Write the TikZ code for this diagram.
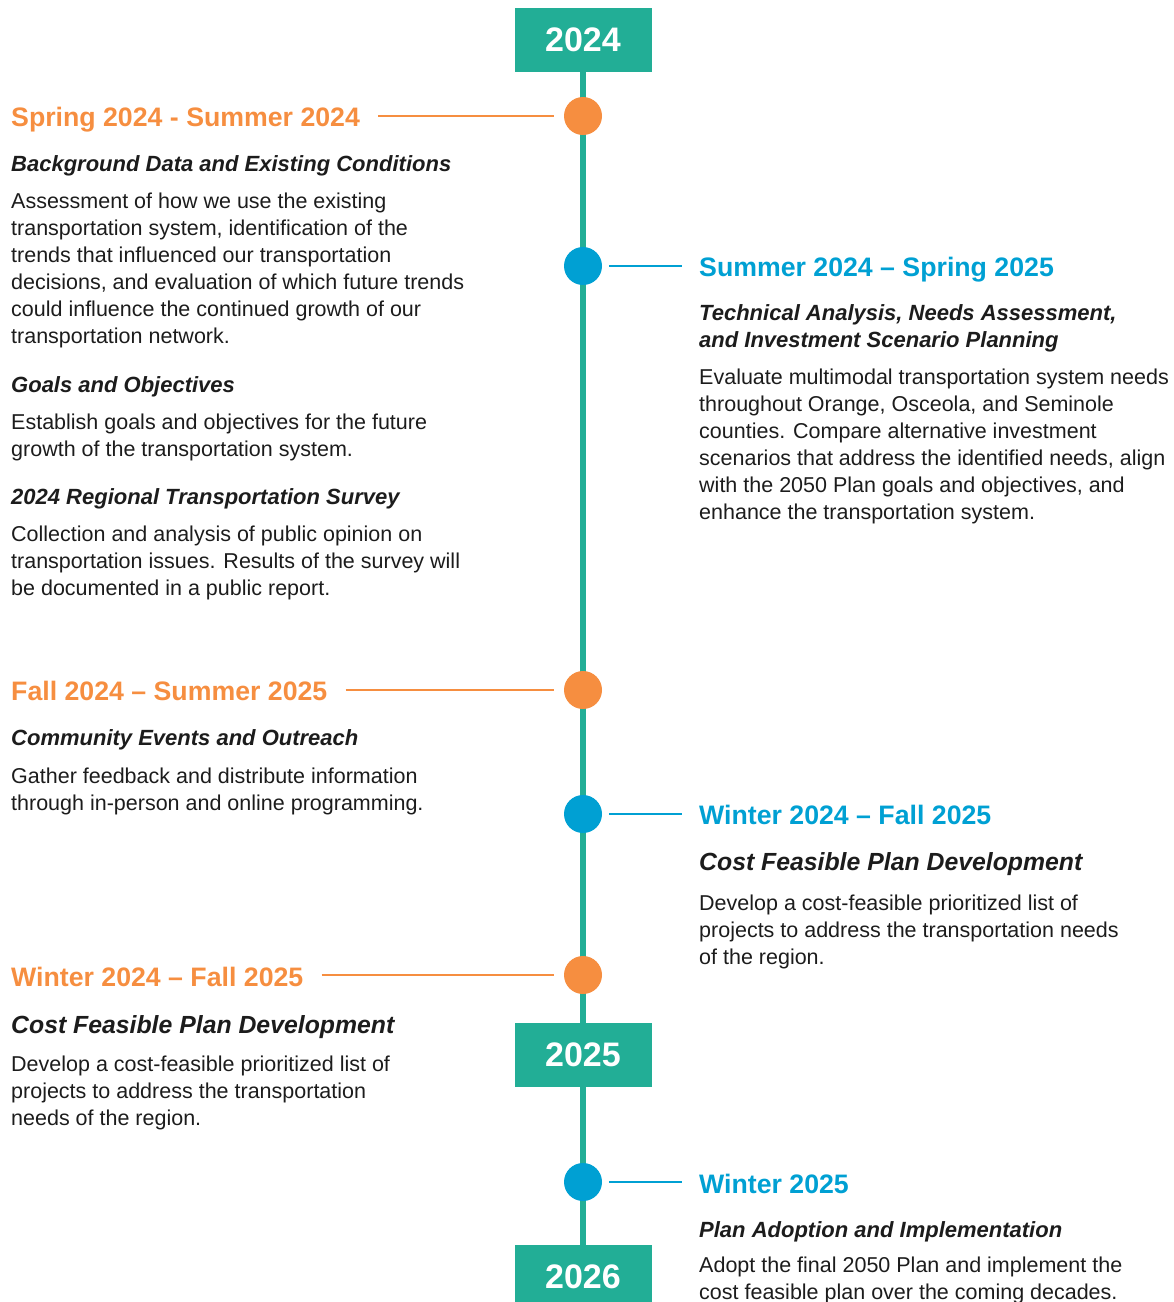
\documentclass[tikz,border=0pt]{standalone}
\usepackage{fontspec}
\setmainfont{Liberation Sans}
\usetikzlibrary{calc}
\definecolor{tlteal}{HTML}{22AE96}
\definecolor{tlorange}{HTML}{F68E40}
\definecolor{tlblue}{HTML}{00A0D3}
\definecolor{tltext}{HTML}{1C1C1C}
\newcommand{\tlstrut}{\rule{0pt}{20pt}}
\begin{document}
\begin{tikzpicture}[x=1pt,y=-1pt,
  yearbox/.style={fill=tlteal, text=white, font=\fontsize{34}{40}\selectfont\bfseries, minimum width=137pt, minimum height=64pt, inner sep=0pt},
  dot/.style={circle, minimum size=38pt, inner sep=0pt},
  odot/.style={dot, fill=tlorange},
  bdot/.style={dot, fill=tlblue},
  date/.style={anchor=base west, inner sep=0pt, font=\fontsize{26.7}{30}\selectfont\bfseries},
  odate/.style={date, text=tlorange},
  bdate/.style={date, text=tlblue},
  head/.style={anchor=base west, inner sep=0pt, text=tltext, font=\fontsize{22}{27}\selectfont\bfseries\itshape},
  bighead/.style={head, font=\fontsize{24.8}{30}\selectfont\bfseries\itshape},
  headblock/.style={anchor=north west, inner sep=0pt, align=left, text=tltext, font=\fontsize{22}{27}\selectfont\bfseries\itshape},
  body/.style={anchor=north west, inner sep=0pt, align=left, text=tltext, font=\fontsize{21.5}{27}\selectfont},
  spine/.style={draw=tlteal, line width=6pt},
  olink/.style={draw=tlorange, line width=2pt},
  blink/.style={draw=tlblue, line width=2pt}]
\useasboundingbox (0,0) rectangle (1174,1302);

% year boxes and spine
\node[yearbox] (y24) at (583,40) {2024};
\node[yearbox] (y25) at (583,1055) {2025};
\node[yearbox] (y26) at (583,1277) {2026};
\draw[spine] (y24.south) -- (y25.north);
\draw[spine] (y25.south) -- (y26.north);

% milestones
\node[odot] (c1) at (583,116) {};
\node[bdot] (c2) at (583,266) {};
\node[odot] (c3) at (583,690) {};
\node[bdot] (c4) at (583,814) {};
\node[odot] (c5) at (583,975) {};
\node[bdot] (c6) at (583,1182) {};

% left column
\node[odate] (d1) at (11,126) {Spring 2024 - Summer 2024};
\node[head] (h1) at (11,171) {Background Data and Existing Conditions};
\node[body] (b1) at (11,188) {\tlstrut Assessment of how we use the existing\\
transportation system, identification of the\\
trends that influenced our transportation\\
decisions, and evaluation of which future trends\\
could influence the continued growth of our\\
transportation network.};
\node[head] (h2) at (11,392) {Goals and Objectives};
\node[body] (b2) at (11,409) {\tlstrut Establish goals and objectives for the future\\
growth of the transportation system.};
\node[head] (h3) at (11,504) {2024 Regional Transportation Survey};
\node[body] (b3) at (11,521) {\tlstrut Collection and analysis of public opinion on\\
transportation issues. Results of the survey will\\
be documented in a public report.};

\node[odate] (d3) at (11,700) {Fall 2024 – Summer 2025};
\node[head] (h4) at (11,745) {Community Events and Outreach};
\node[body] (b4) at (11,763) {\tlstrut Gather feedback and distribute information\\
through in-person and online programming.};

\node[odate] (d5) at (11,986) {Winter 2024 – Fall 2025};
\node[bighead] (h5) at (11,1033) {Cost Feasible Plan Development};
\node[body] (b5) at (11,1051) {\tlstrut Develop a cost-feasible prioritized list of\\
projects to address the transportation\\
needs of the region.};

% right column
\node[bdate] (d2) at (699,276) {Summer 2024 – Spring 2025};
\node[headblock] (h6) at (699,300) {\tlstrut Technical Analysis, Needs Assessment,\\
and Investment Scenario Planning};
\node[body] (b6) at (699,364) {\tlstrut Evaluate multimodal transportation system needs\\
throughout Orange, Osceola, and Seminole\\
counties. Compare alternative investment\\
scenarios that address the identified needs, align\\
with the 2050 Plan goals and objectives, and\\
enhance the transportation system.};

\node[bdate] (d4) at (699,824) {Winter 2024 – Fall 2025};
\node[bighead] (h7) at (699,870) {Cost Feasible Plan Development};
\node[body] (b7) at (699,890) {\tlstrut Develop a cost-feasible prioritized list of\\
projects to address the transportation needs\\
of the region.};

\node[bdate] (d6) at (699,1193) {Winter 2025};
\node[head] (h8) at (699,1237) {Plan Adoption and Implementation};
\node[body] (b8) at (699,1252) {\tlstrut Adopt the final 2050 Plan and implement the\\
cost feasible plan over the coming decades.};

% connectors
\draw[olink] ($(d1.east |- c1.west)+(18,0)$) -- ($(c1.west)+(-10,0)$);
\draw[olink] ($(d3.east |- c3.west)+(18,0)$) -- ($(c3.west)+(-10,0)$);
\draw[olink] ($(d5.east |- c5.west)+(18,0)$) -- ($(c5.west)+(-10,0)$);
\draw[blink] ($(c2.east)+(7,0)$) -- ($(d2.west |- c2.east)+(-17,0)$);
\draw[blink] ($(c4.east)+(7,0)$) -- ($(d4.west |- c4.east)+(-17,0)$);
\draw[blink] ($(c6.east)+(7,0)$) -- ($(d6.west |- c6.east)+(-17,0)$);
\end{tikzpicture}
\end{document}
